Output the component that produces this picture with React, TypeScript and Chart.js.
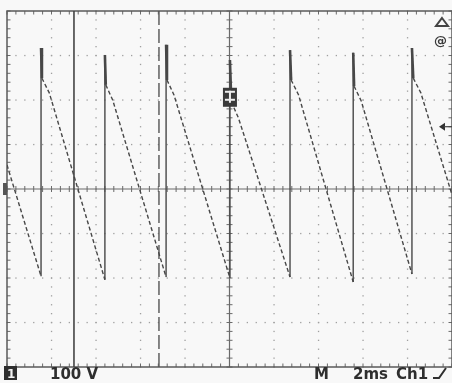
import React, { useEffect, useRef } from "react";
import { Chart, registerables } from "chart.js";

Chart.register(...registerables);

// Trace: time (ms) and voltage (V), 2 ms/div, 100 V/div
const traceTime = [
  0, 1.53, 1.53, 1.57, 1.9,
  4.40, 4.40, 4.44, 4.75,
  7.15, 7.15, 7.19, 7.5,
  10.02, 10.02, 10.08, 10.4,
  12.72, 12.72, 12.77, 13.1,
  15.56, 15.56, 15.6, 15.92,
  18.2, 18.2, 18.26, 18.6,
  20,
];
const traceVolt = [
  54, -196, 317, 249, 216,
  -204, 301, 234, 200,
  -198, 324, 245, 212,
  -200, 290, 196, 160,
  -198, 312, 245, 212,
  -209, 306, 231, 198,
  -191, 317, 249, 216,
  -13,
];
// Cursor positions (ms)
const solidCursor = [3.01, 3.01];
const dashedCursor = [6.83, 6.83];
const cursorSpan = [-400, 400];

// Scale setup
const timeRange = [0, 20];
const voltRange = [-400, 400];
const timeStep = 2;
const voltStep = 100;

// Readout texts
const chLabel = "1";
const voltsLabel = "100 V";
const modeLabel = "M";
const timeLabel = "2ms";
const srcLabel = "Ch1";
const triggerLevel = 140; // V, arrow on right
const triggerTime = 10.02; // ms, marker at centre

const TRACE = "#474747";

const graticule = {
  id: "graticule",
  beforeDatasetsDraw(chart: any) {
    const { ctx, chartArea: a, scales } = chart;
    const xs = scales.x;
    const ys = scales.y;
    ctx.save();
    const divX = xs.getPixelForValue(timeStep) - xs.getPixelForValue(0);
    const divY = ys.getPixelForValue(0) - ys.getPixelForValue(voltStep);
    const cx = xs.getPixelForValue(10);
    const cy = ys.getPixelForValue(0);
    // dotted grid
    ctx.fillStyle = "#a0a0a0";
    for (let t = timeRange[0] + timeStep; t < timeRange[1]; t += timeStep) {
      if (Math.abs(t - 10) < 1e-6) continue;
      const px = xs.getPixelForValue(t);
      for (let y = a.top; y <= a.bottom; y += divY / 5) ctx.fillRect(px - 0.6, y - 0.6, 1.3, 1.3);
    }
    for (let v = voltRange[0] + voltStep; v < voltRange[1]; v += voltStep) {
      if (Math.abs(v) < 1e-6) continue;
      const py = ys.getPixelForValue(v);
      for (let x = a.left; x <= a.right; x += divX / 5) ctx.fillRect(x - 0.6, py - 0.6, 1.3, 1.3);
    }
    ctx.strokeStyle = "#6a6a6a";
    ctx.lineWidth = 1.2;
    // centre axes
    ctx.beginPath();
    ctx.moveTo(cx, a.top);
    ctx.lineTo(cx, a.bottom);
    ctx.moveTo(a.left, cy);
    ctx.lineTo(a.right, cy);
    ctx.stroke();
    ctx.lineWidth = 1;
    ctx.beginPath();
    for (let x = a.left; x <= a.right + 0.5; x += divX / 5) {
      ctx.moveTo(x, cy - 3);
      ctx.lineTo(x, cy + 3);
      ctx.moveTo(x, a.top);
      ctx.lineTo(x, a.top + 3.5);
      ctx.moveTo(x, a.bottom);
      ctx.lineTo(x, a.bottom - 3.5);
    }
    for (let y = a.top; y <= a.bottom + 0.5; y += divY / 5) {
      ctx.moveTo(cx - 3, y);
      ctx.lineTo(cx + 3, y);
      ctx.moveTo(a.left, y);
      ctx.lineTo(a.left + 3.5, y);
      ctx.moveTo(a.right, y);
      ctx.lineTo(a.right - 3.5, y);
    }
    ctx.stroke();
    // border
    ctx.lineWidth = 1.5;
    ctx.strokeStyle = "#5a5a5a";
    ctx.strokeRect(a.left, a.top, a.right - a.left, a.bottom - a.top);
    ctx.restore();
  },
  afterDraw(chart: any) {
    const { ctx, chartArea: a, scales } = chart;
    const xs = scales.x;
    const ys = scales.y;
    ctx.save();
    // trigger point marker at centre
    const tx = xs.getPixelForValue(triggerTime);
    const ty = ys.getPixelForValue(205);
    ctx.fillStyle = "#3a3a3a";
    ctx.fillRect(tx - 7, ty - 10, 14, 19);
    ctx.fillStyle = "#eee";
    ctx.fillRect(tx - 5, ty - 7, 10, 2);
    ctx.fillRect(tx - 1, ty - 7, 2, 12);
    ctx.fillRect(tx - 5, ty + 1, 10, 2);
    // trigger level arrow on right
    const ly = ys.getPixelForValue(triggerLevel);
    ctx.fillStyle = "#333";
    ctx.beginPath();
    ctx.moveTo(a.right - 13, ly);
    ctx.lineTo(a.right - 7, ly - 4);
    ctx.lineTo(a.right - 7, ly + 4);
    ctx.closePath();
    ctx.fill();
    ctx.strokeStyle = "#444";
    ctx.lineWidth = 1.2;
    ctx.beginPath();
    ctx.moveTo(a.right - 8, ly);
    ctx.lineTo(a.right, ly);
    ctx.stroke();
    // ground marker on left
    const gy = ys.getPixelForValue(0);
    ctx.fillStyle = "#555";
    ctx.fillRect(a.left - 4, gy - 6, 4, 12);
    // top right symbols
    ctx.strokeStyle = "#444";
    ctx.lineWidth = 2;
    ctx.beginPath();
    ctx.moveTo(442, 18);
    ctx.lineTo(448, 26);
    ctx.lineTo(436, 26);
    ctx.closePath();
    ctx.stroke();
    ctx.fillStyle = "#3a3a3a";
    ctx.font = 'bold 13px "DejaVu Sans"';
    ctx.textBaseline = "alphabetic";
    ctx.fillText("@", 434, 45);
    // bottom readout
    ctx.fillStyle = "#2e2e2e";
    ctx.fillRect(4, 366, 13, 14);
    ctx.fillStyle = "#f2f2f2";
    ctx.font = 'bold 12px "DejaVu Sans"';
    ctx.fillText(chLabel, 7, 378);
    ctx.fillStyle = "#2e2e2e";
    ctx.font = 'bold 15px "DejaVu Sans"';
    ctx.fillText(voltsLabel, 50, 379);
    ctx.fillText(modeLabel, 314, 379);
    ctx.fillText(timeLabel, 353, 379);
    ctx.fillText(srcLabel, 396, 379);
    ctx.strokeStyle = "#2e2e2e";
    ctx.lineWidth = 2;
    ctx.beginPath();
    ctx.moveTo(433, 378);
    ctx.lineTo(439, 378);
    ctx.lineTo(446, 368);
    ctx.stroke();
    ctx.restore();
  },
};

export default function App() {
  const ref = useRef<HTMLCanvasElement | null>(null);
  useEffect(() => {
    document.body.style.margin = "0";
    if (!ref.current) return;
    const trace = traceTime.map((t, i) => ({ x: t, y: traceVolt[i] }));
    const c1 = solidCursor.map((t, i) => ({ x: t, y: cursorSpan[i] }));
    const c2 = dashedCursor.map((t, i) => ({ x: t, y: cursorSpan[i] }));
    const chart = new Chart(ref.current, {
      type: "line",
      data: {
        datasets: [
          {
            data: trace,
            borderColor: TRACE,
            borderWidth: 1.4,
            pointRadius: 0,
            tension: 0,
            segment: {
              borderDash: (ctx: any) => {
                const dx = ctx.p1.parsed.x - ctx.p0.parsed.x;
                return dx < 0.1 ? undefined : [4, 2.5];
              },
              borderWidth: (ctx: any) => {
                const dx = ctx.p1.parsed.x - ctx.p0.parsed.x;
                const dy = ctx.p1.parsed.y - ctx.p0.parsed.y;
                return dx > 0 && dx < 0.1 && dy < 0 ? 2.6 : 1.4;
              },
            },
          } as any,
          {
            data: c1,
            borderColor: "#444",
            borderWidth: 1.6,
            pointRadius: 0,
          },
          {
            data: c2,
            borderColor: "#555",
            borderWidth: 1.4,
            borderDash: [14, 4],
            pointRadius: 0,
          },
        ],
      },
      options: {
        animation: false,
        responsive: false,
        maintainAspectRatio: false,
        layout: { padding: { left: 7, top: 11, right: 0, bottom: 16 } },
        plugins: { legend: { display: false }, tooltip: { enabled: false } },
        scales: {
          x: { type: "linear", min: timeRange[0], max: timeRange[1], display: false },
          y: { type: "linear", min: voltRange[0], max: voltRange[1], display: false },
        },
      },
      plugins: [graticule],
    });
    return () => chart.destroy();
  }, []);
  return (
    <div style={{ position: "fixed", left: 0, top: 0, width: 452, height: 383, background: "#f8f8f8" }}>
      <canvas ref={ref} width={452} height={383} style={{ width: 452, height: 383, display: "block" }} />
    </div>
  );
}
